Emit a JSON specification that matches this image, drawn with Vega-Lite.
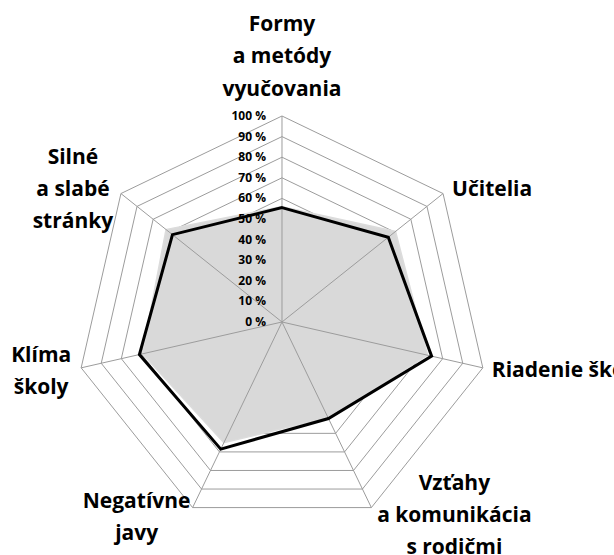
{
  "$schema": "https://vega.github.io/schema/vega-lite/v6.json",
  "width": 614,
  "height": 555,
  "padding": 0,
  "autosize": {"type": "none"},
  "config": {"view": {"stroke": null}, "text": {"font": "Open Sans"}},
  "datasets": {
    "rings": [
      {"level": 10, "k": [0, 1, 2, 3, 4, 5, 6]},
      {"level": 20, "k": [0, 1, 2, 3, 4, 5, 6]},
      {"level": 30, "k": [0, 1, 2, 3, 4, 5, 6]},
      {"level": 40, "k": [0, 1, 2, 3, 4, 5, 6]},
      {"level": 50, "k": [0, 1, 2, 3, 4, 5, 6]},
      {"level": 60, "k": [0, 1, 2, 3, 4, 5, 6]},
      {"level": 70, "k": [0, 1, 2, 3, 4, 5, 6]},
      {"level": 80, "k": [0, 1, 2, 3, 4, 5, 6]},
      {"level": 90, "k": [0, 1, 2, 3, 4, 5, 6]},
      {"level": 100, "k": [0, 1, 2, 3, 4, 5, 6]}
    ],
    "ticks": [
      {"level": 0}, {"level": 10}, {"level": 20}, {"level": 30}, {"level": 40}, {"level": 50},
      {"level": 60}, {"level": 70}, {"level": 80}, {"level": 90}, {"level": 100}
    ],
    "labels": [
      {"k": 0, "lines": ["Formy", "a metódy", "vyučovania"]},
      {"k": 1, "lines": ["Učitelia"]},
      {"k": 2, "lines": ["Riadenie školy"]},
      {"k": 3, "lines": ["Vzťahy", "a komunikácia", "s rodičmi"]},
      {"k": 4, "lines": ["Negatívne", "javy"]},
      {"k": 5, "lines": ["Klíma", "školy"]},
      {"k": 6, "lines": ["Silné", "a slabé", "stránky"]}
    ],
    "series": [
      {"kategoria": "Formy a metódy vyučovania", "k": 0, "seria": "A", "hodnota": 56},
      {"kategoria": "Učitelia", "k": 1, "seria": "A", "hodnota": 70.5},
      {"kategoria": "Riadenie školy", "k": 2, "seria": "A", "hodnota": 72.5},
      {"kategoria": "Vzťahy a komunikácia s rodičmi", "k": 3, "seria": "A", "hodnota": 51.5},
      {"kategoria": "Negatívne javy", "k": 4, "seria": "A", "hodnota": 65},
      {"kategoria": "Klíma školy", "k": 5, "seria": "A", "hodnota": 69.5},
      {"kategoria": "Silné a slabé stránky", "k": 6, "seria": "A", "hodnota": 72},
      {"kategoria": "Formy a metódy vyučovania", "k": 0, "seria": "B", "hodnota": 55.5},
      {"kategoria": "Učitelia", "k": 1, "seria": "B", "hodnota": 66},
      {"kategoria": "Riadenie školy", "k": 2, "seria": "B", "hodnota": 74.5},
      {"kategoria": "Vzťahy a komunikácia s rodičmi", "k": 3, "seria": "B", "hodnota": 52},
      {"kategoria": "Negatívne javy", "k": 4, "seria": "B", "hodnota": 68.5},
      {"kategoria": "Klíma školy", "k": 5, "seria": "B", "hodnota": 71},
      {"kategoria": "Silné a slabé stránky", "k": 6, "seria": "B", "hodnota": 68}
    ]
  },
  "encoding": {
    "x": {"field": "x", "type": "quantitative", "scale": {"domain": [-136.89, 161.17], "nice": false, "zero": false}, "axis": null},
    "y": {"field": "y", "type": "quantitative", "scale": {"domain": [-113.11, 156.31], "nice": false, "zero": false}, "axis": null}
  },
  "layer": [
    {
      "data": {"name": "rings"},
      "transform": [
        {"flatten": ["k"]},
        {"calculate": "datum.k*2*PI/7", "as": "a"},
        {"calculate": "datum.level*sin(datum.a)", "as": "x"},
        {"calculate": "datum.level*cos(datum.a)", "as": "y"}
      ],
      "mark": {"type": "line", "interpolate": "linear-closed", "stroke": "#9c9c9c", "strokeWidth": 1},
      "encoding": {"detail": {"field": "level", "type": "nominal"}, "order": {"field": "k", "type": "quantitative"}}
    },
    {
      "data": {"name": "series"},
      "transform": [
        {"filter": "datum.seria == 'A'"},
        {"calculate": "datum.k*2*PI/7", "as": "a"},
        {"calculate": "datum.hodnota*sin(datum.a)", "as": "x"},
        {"calculate": "datum.hodnota*cos(datum.a)", "as": "y"}
      ],
      "mark": {"type": "line", "interpolate": "linear-closed", "fill": "#d9d9d9", "stroke": "#dcdcdc", "strokeWidth": 1.5},
      "encoding": {"order": {"field": "k", "type": "quantitative"}}
    },
    {
      "data": {"name": "labels"},
      "transform": [
        {"calculate": "datum.k*2*PI/7", "as": "a"},
        {"calculate": "100*sin(datum.a)", "as": "x"},
        {"calculate": "100*cos(datum.a)", "as": "y"}
      ],
      "mark": {"type": "rule", "stroke": "#9c9c9c", "strokeWidth": 1},
      "encoding": {"x2": {"datum": 0}, "y2": {"datum": 0}}
    },
    {
      "data": {"name": "series"},
      "transform": [
        {"filter": "datum.seria == 'B'"},
        {"calculate": "datum.k*2*PI/7", "as": "a"},
        {"calculate": "datum.hodnota*sin(datum.a)", "as": "x"},
        {"calculate": "datum.hodnota*cos(datum.a)", "as": "y"}
      ],
      "mark": {"type": "line", "interpolate": "linear-closed", "stroke": "#000000", "strokeWidth": 3, "strokeJoin": "miter"},
      "encoding": {"order": {"field": "k", "type": "quantitative"}}
    },
    {
      "data": {"name": "ticks"},
      "transform": [
        {"calculate": "0", "as": "x"},
        {"calculate": "datum.level", "as": "y"},
        {"calculate": "datum.level + ' %'", "as": "t"}
      ],
      "mark": {"type": "text", "align": "right", "baseline": "middle", "dx": -16, "fontSize": 12, "fontWeight": "bold", "color": "#000000"},
      "encoding": {"text": {"field": "t"}}
    },
    {
      "data": {"name": "labels"},
      "transform": [
        {"filter": "datum.k == 0"},
        {"calculate": "datum.k*2*PI/7", "as": "a"},
        {"calculate": "100*sin(datum.a)", "as": "x"},
        {"calculate": "100*cos(datum.a)", "as": "y"}
      ],
      "mark": {"type": "text", "align": "center", "baseline": "alphabetic", "dx": 0, "dy": -85, "fontSize": 21, "fontWeight": "bold", "lineHeight": 32.3, "color": "#000000"},
      "encoding": {"text": {"field": "lines"}}
    },
    {
      "data": {"name": "labels"},
      "transform": [
        {"filter": "datum.k == 1"},
        {"calculate": "datum.k*2*PI/7", "as": "a"},
        {"calculate": "100*sin(datum.a)", "as": "x"},
        {"calculate": "100*cos(datum.a)", "as": "y"}
      ],
      "mark": {"type": "text", "align": "left", "baseline": "alphabetic", "dx": 9, "dy": 2, "fontSize": 21, "fontWeight": "bold", "lineHeight": 32.3, "color": "#000000"},
      "encoding": {"text": {"field": "lines"}}
    },
    {
      "data": {"name": "labels"},
      "transform": [
        {"filter": "datum.k == 2"},
        {"calculate": "datum.k*2*PI/7", "as": "a"},
        {"calculate": "100*sin(datum.a)", "as": "x"},
        {"calculate": "100*cos(datum.a)", "as": "y"}
      ],
      "mark": {"type": "text", "align": "left", "baseline": "alphabetic", "dx": 9, "dy": 9, "fontSize": 21, "fontWeight": "bold", "lineHeight": 32.3, "color": "#000000"},
      "encoding": {"text": {"field": "lines"}}
    },
    {
      "data": {"name": "labels"},
      "transform": [
        {"filter": "datum.k == 3"},
        {"calculate": "datum.k*2*PI/7", "as": "a"},
        {"calculate": "100*sin(datum.a)", "as": "x"},
        {"calculate": "100*cos(datum.a)", "as": "y"}
      ],
      "mark": {"type": "text", "align": "center", "baseline": "alphabetic", "dx": 83, "dy": -18, "fontSize": 21, "fontWeight": "bold", "lineHeight": 32.3, "color": "#000000"},
      "encoding": {"text": {"field": "lines"}}
    },
    {
      "data": {"name": "labels"},
      "transform": [
        {"filter": "datum.k == 4"},
        {"calculate": "datum.k*2*PI/7", "as": "a"},
        {"calculate": "100*sin(datum.a)", "as": "x"},
        {"calculate": "100*cos(datum.a)", "as": "y"}
      ],
      "mark": {"type": "text", "align": "center", "baseline": "alphabetic", "dx": -56, "dy": 0, "fontSize": 21, "fontWeight": "bold", "lineHeight": 32.3, "color": "#000000"},
      "encoding": {"text": {"field": "lines"}}
    },
    {
      "data": {"name": "labels"},
      "transform": [
        {"filter": "datum.k == 5"},
        {"calculate": "datum.k*2*PI/7", "as": "a"},
        {"calculate": "100*sin(datum.a)", "as": "x"},
        {"calculate": "100*cos(datum.a)", "as": "y"}
      ],
      "mark": {"type": "text", "align": "center", "baseline": "alphabetic", "dx": -40, "dy": -6, "fontSize": 21, "fontWeight": "bold", "lineHeight": 32.3, "color": "#000000"},
      "encoding": {"text": {"field": "lines"}}
    },
    {
      "data": {"name": "labels"},
      "transform": [
        {"filter": "datum.k == 6"},
        {"calculate": "datum.k*2*PI/7", "as": "a"},
        {"calculate": "100*sin(datum.a)", "as": "x"},
        {"calculate": "100*cos(datum.a)", "as": "y"}
      ],
      "mark": {"type": "text", "align": "center", "baseline": "alphabetic", "dx": -48, "dy": -30, "fontSize": 21, "fontWeight": "bold", "lineHeight": 32.3, "color": "#000000"},
      "encoding": {"text": {"field": "lines"}}
    }
  ]
}
